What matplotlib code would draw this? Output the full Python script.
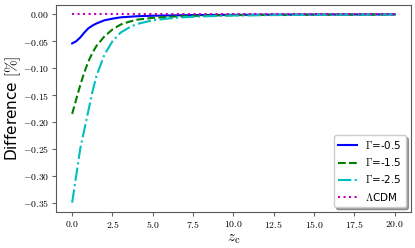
import numpy as np
import matplotlib.pyplot as plt

plt.rcParams['mathtext.fontset'] = 'cm'

# redshift grid and differences [%]
z = [0.0, 0.25, 0.5, 0.75, 1.0, 1.25, 1.5, 2.0, 2.5, 3.0, 3.5, 4.0, 5.0, 6.0, 7.0, 8.0, 10.0, 12.5, 15.0, 17.5, 20.0]
d_05 = [-0.054, -0.050, -0.043, -0.034, -0.026, -0.021, -0.017, -0.011, -0.008, -0.0055, -0.0045, -0.0035,
        -0.0025, -0.002, -0.0015, -0.0012, -0.0008, -0.0005, -0.0003, -0.0002, -0.0001]
d_15 = [-0.185, -0.158, -0.132, -0.108, -0.088, -0.072, -0.059, -0.041, -0.028, -0.019, -0.014, -0.010,
        -0.0065, -0.0045, -0.0033, -0.0025, -0.0015, -0.0009, -0.0006, -0.0004, -0.0003]
d_25 = [-0.350, -0.300, -0.250, -0.215, -0.180, -0.145, -0.115, -0.075, -0.050, -0.034, -0.025, -0.018,
        -0.011, -0.0075, -0.0052, -0.0038, -0.0022, -0.0013, -0.0008, -0.0005, -0.0003]
z_lcdm = [0.0, 20.0]
d_lcdm = [0.0, 0.0]

fig, ax = plt.subplots(figsize=(4.15, 2.48), dpi=100)
ax.plot(z, d_05, 'b-', lw=1.5, label=r'$\Gamma$=-0.5')
ax.plot(z, d_15, 'g--', lw=1.5, label=r'$\Gamma$=-1.5')
ax.plot(z, d_25, 'c-.', lw=1.5, label=r'$\Gamma$=-2.5')
ax.plot(z_lcdm, d_lcdm, 'm:', lw=1.5, label=r'$\Lambda$CDM')

xt = np.arange(0, 20.1, 2.5)
ax.set_xticks(xt)
ax.set_xticklabels(['$%.1f$' % t for t in xt])
yt = np.arange(-0.35, 0.001, 0.05)
ax.set_yticks(yt)
ax.set_yticklabels(['$%.2f$' % t if abs(t) > 1e-9 else '$0.00$' for t in yt])
ax.tick_params(labelsize=7, color='0.4', length=3, pad=2)
for s in ax.spines.values():
    s.set_color('0.35')
ax.set_xlabel(r'$z_{\rm c}$', fontsize=11, labelpad=1)
ax.set_ylabel(r'Difference $[\%]$', fontsize=11, labelpad=0)
ax.legend(loc='lower right', fontsize=7.5, fancybox=True, shadow=True, handlelength=1.8)

plt.subplots_adjust(left=0.135, right=0.99, top=0.98, bottom=0.145)
plt.savefig('out.png', dpi=100)
